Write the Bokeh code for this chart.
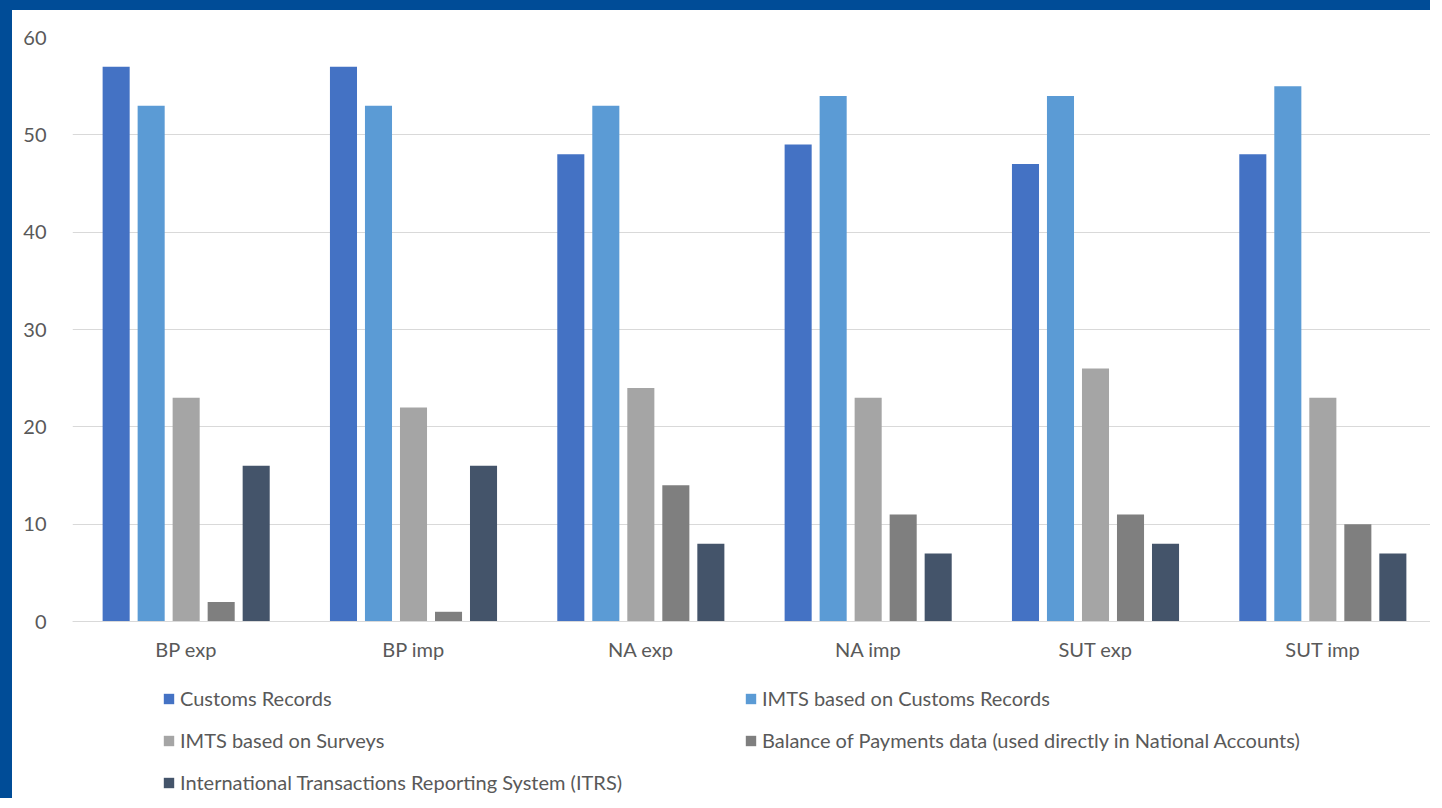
from bokeh.plotting import figure
from bokeh.models import FactorRange, Range1d, Legend, LegendItem, ColumnDataSource, FixedTicker
from bokeh.transform import dodge
from bokeh.embed import file_html
from bokeh.resources import INLINE

categories = ["BP exp", "BP imp", "NA exp", "NA imp", "SUT exp", "SUT imp"]
series_names = [
    "Customs Records",
    "IMTS based on Customs Records",
    "IMTS based on Surveys",
    "Balance of Payments data (used directly in National Accounts)",
    "International Transactions Reporting System (ITRS)",
]
customs_records = [57, 57, 48, 49, 47, 48]
imts_customs = [53, 53, 53, 54, 54, 55]
imts_surveys = [23, 22, 24, 23, 26, 23]
bop_data = [2, 1, 14, 11, 11, 10]
itrs = [16, 16, 8, 7, 8, 7]
y_ticks = [0, 10, 20, 30, 40, 50, 60]
colors = ["#4472C4", "#5B9BD5", "#A5A5A5", "#7F7F7F", "#44546A"]

series_values = [customs_records, imts_customs, imts_surveys, bop_data, itrs]
keys = ["s0", "s1", "s2", "s3", "s4"]
data = {"cat": categories}
for k, v in zip(keys, series_values):
    data[k] = v
source = ColumnDataSource(data)

FONT = "Lato"
TXT = "#595959"

# frame extends below zero to host the category labels and legend
p = figure(
    x_range=FactorRange(*categories, range_padding=0),
    y_range=Range1d(-19.21, 60),
    width=1430, height=798,
    output_backend="svg", toolbar_location=None,
    min_border_left=60, min_border_right=6, min_border_top=27, min_border_bottom=0,
)
p.styles = {"border-left": "12px solid #004C97", "border-top": "10px solid #004C97"}
p.outline_line_color = None
p.background_fill_color = "white"
p.border_fill_color = "white"

step = 0.154
bw = 0.119
items = []
for i, (k, name, c) in enumerate(zip(keys, series_names, colors)):
    r = p.vbar(x=dodge("cat", (i - 2) * step, range=p.x_range), top=k, width=bw,
               source=source, fill_color=c, line_color=None)
    items.append(LegendItem(label=name, renderers=[r]))

p.yaxis.ticker = FixedTicker(ticks=y_ticks)
p.ygrid.ticker = FixedTicker(ticks=y_ticks)
p.xgrid.grid_line_color = None
p.ygrid.grid_line_color = "#D9D9D9"
p.ygrid.grid_line_width = 1

p.yaxis.axis_line_color = None
p.yaxis.major_tick_line_color = None
p.yaxis.minor_tick_line_color = None
p.yaxis.major_label_standoff = 20
p.yaxis.major_label_text_font = FONT
p.yaxis.major_label_text_font_size = "20px"
p.yaxis.major_label_text_color = TXT

p.xaxis.fixed_location = 0
p.xaxis.axis_line_color = "#D9D9D9"
p.xaxis.major_tick_line_color = None
p.xaxis.minor_tick_line_color = None
p.xaxis.major_label_standoff = 9
p.xaxis.major_label_text_font = FONT
p.xaxis.major_label_text_font_size = "20px"
p.xaxis.major_label_text_color = TXT

# column-major order: left column then right column
ordered = [items[0], items[2], items[4], items[1], items[3]]
legend = Legend(
    items=ordered, orientation="vertical", nrows=3,
    location=(90, 14),
    glyph_width=13, glyph_height=13, label_standoff=5,
    label_width=546, label_height=20, spacing=18,
    label_text_font=FONT, label_text_font_size="20px", label_text_color=TXT,
    border_line_color=None, background_fill_alpha=0, padding=0, margin=0,
)
p.add_layout(legend, "center")

open("out.html", "w").write(file_html(p, INLINE))
